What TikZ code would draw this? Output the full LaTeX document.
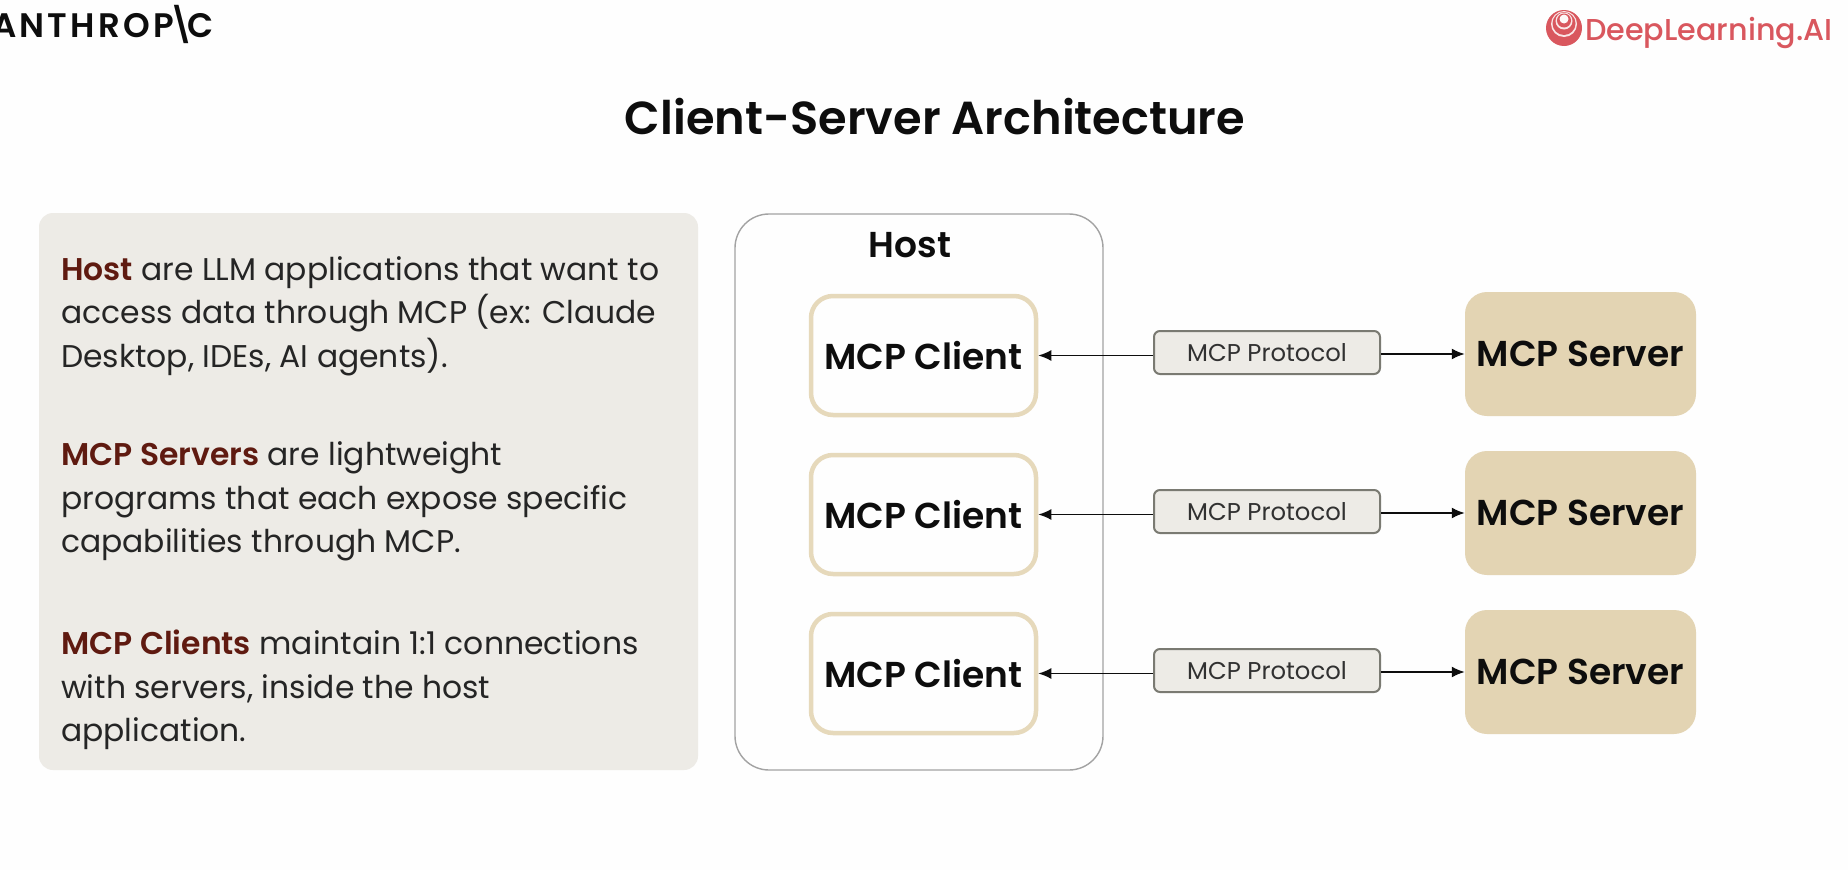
\documentclass[tikz,border=0pt]{standalone}
\usepackage{fontspec}
\setmainfont{Poppins}[BoldFont={Poppins SemiBold}]
\newfontfamily\pmed{Poppins Medium}
\definecolor{bgpage}{HTML}{FEFEFE}
\definecolor{panel}{HTML}{EDEBE6}
\definecolor{sand}{HTML}{E3D4B3}
\definecolor{sandline}{HTML}{E6D9BB}
\definecolor{kw}{HTML}{5F1A10}
\definecolor{dlred}{HTML}{D9575E}
\definecolor{ink}{HTML}{0D0D0D}
\definecolor{protoline}{HTML}{7A7A72}
\definecolor{hostline}{HTML}{A3A3A3}
\usetikzlibrary{arrows.meta}
\newcommand{\kwd}[1]{\textbf{\textcolor{kw}{#1}}}
\tikzset{
  clientbox/.style={draw=sandline,line width=4.5pt,fill=bgpage,rounded corners=22pt,minimum width=225pt,minimum height=119pt,inner sep=0pt,font=\fontsize{36}{40}\selectfont\bfseries,text=ink},
  serverbox/.style={fill=sand,rounded corners=22pt,minimum width=231pt,minimum height=124pt,inner sep=0pt,font=\fontsize{36}{40}\selectfont\bfseries,text=ink},
  protobox/.style={draw=protoline,line width=2pt,fill=panel,rounded corners=6pt,minimum width=226pt,minimum height=43pt,inner sep=0pt,font=\fontsize{24.3}{28}\selectfont,text=ink!85},
  para/.style={anchor=west,align=left,inner sep=0pt,font=\fontsize{31.4}{43.5}\selectfont,text=ink!90},
  conn/.style={-{Latex[length=13pt,width=11pt]},line width=1.8pt,draw=ink},
}
\begin{document}
\begin{tikzpicture}[x=1pt,y=-1pt]
\useasboundingbox (0,0) rectangle (1848,870);
\clip (0,0) rectangle (1848,870);
\fill[bgpage] (0,0) rectangle (1848,870);
\node[anchor=base west,inner sep=0pt,font=\fontsize{34}{36}\selectfont\bfseries,text=ink] (anth) at (-8,37) {\addfontfeature{LetterSpace=9.5}ANTHROP\kern-6pt\textbackslash\kern-6pt C};
\node[anchor=base west,inner sep=0pt,font=\pmed\fontsize{30.2}{36}\selectfont,text=dlred] (dl) at (1585,40) {DeepLearning.AI};
\fill[dlred] (1564,28) circle (18pt);
\fill[white!85!dlred] (1564,24) circle (13pt);
\fill[dlred] (1564,23.5) circle (11.5pt);
\fill[white!85!dlred] (1564,21) circle (8.5pt);
\fill[dlred] (1564,20.5) circle (7pt);
\fill[white!95!dlred] (1564,19) circle (4.5pt);
\node[font=\fontsize{46.3}{52}\selectfont\bfseries,text=ink,inner sep=0pt] (title) at (935,117) {Client-Server Architecture};

\node[fill=panel,rounded corners=14pt,minimum width=659pt,minimum height=557pt,inner sep=0pt] (panelbox) at (368.5,491.5) {};
\node[para] (p1) at (61,316) {\kwd{Host} are LLM applications that want to\\access data through MCP (ex: Claude\\Desktop, IDEs, AI agents).};
\node[para] (p2) at (61,501.5) {\kwd{MCP Servers} are lightweight\\programs that each expose specific\\capabilities through MCP.};
\node[para] (p3) at (61,690) {\kwd{MCP Clients} maintain 1:1 connections\\with servers, inside the host\\application.};

\node[draw=hostline,line width=1.4pt,rounded corners=34pt,minimum width=368pt,minimum height=556pt,inner sep=0pt] (hostbox) at (919,492) {};
\node[font=\fontsize{36}{40}\selectfont\bfseries,text=ink,inner sep=0pt] (hostlabel) at (910,245) {Host};

\foreach \n/\yc/\ys/\yp in {1/355.5/354/352.5,2/514.5/513/511.5,3/673.5/672/670.5}{
  \node[clientbox] (c\n) at (923.5,\yc) {MCP Client};
  \node[serverbox] (s\n) at (1580.5,\ys) {\raisebox{-1pt}{MCP Server}};
  \node[protobox] (m\n) at (1267,\yp) {\raisebox{-1pt}{MCP Protocol}};
  \draw[conn] (m\n.west |- c\n.east) -- (c\n.east);
  \draw[conn] (m\n.east |- s\n.west) -- (s\n.west);
}
\end{tikzpicture}
\end{document}
